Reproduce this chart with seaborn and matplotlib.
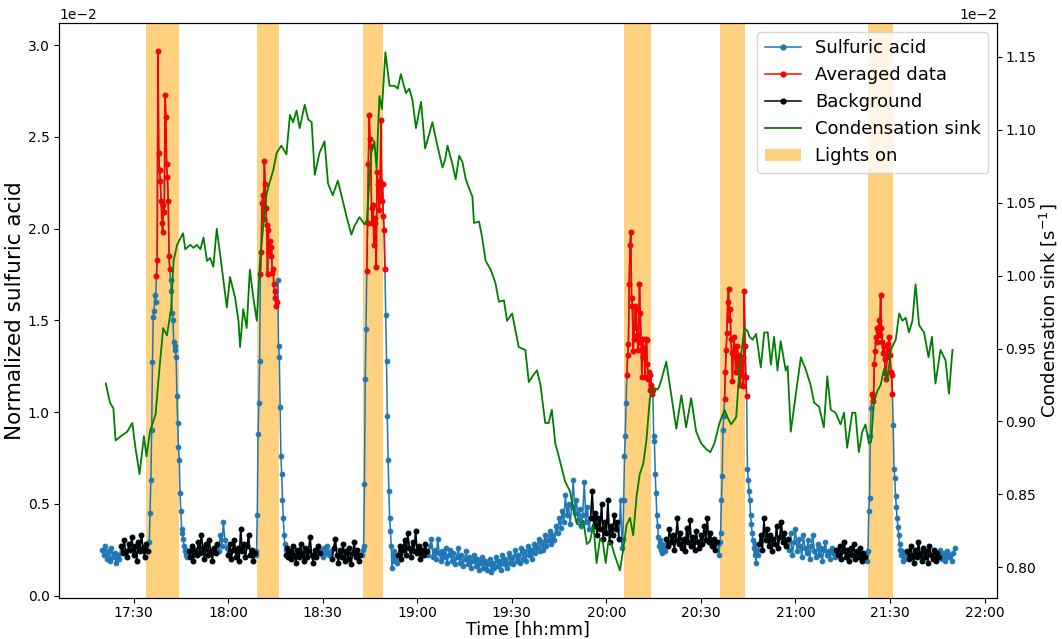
import numpy as np
import pandas as pd
import matplotlib
matplotlib.use("Agg")
import matplotlib.pyplot as plt
import seaborn as sns
from matplotlib.lines import Line2D
from matplotlib.patches import Patch
from matplotlib.ticker import FuncFormatter

# ---------------- data (time in minutes after 17:00) ----------------
# normalized sulfuric acid, in units of 1e-2, sampled in segments (start, step)
sa_base1 = [0.25, 0.22, 0.27, 0.20, 0.24, 0.19, 0.26, 0.21, 0.23, 0.18, 0.22, 0.20, 0.27, 0.23, 0.30,
            0.24, 0.21, 0.28, 0.25, 0.32, 0.22, 0.27, 0.19, 0.29, 0.24, 0.33, 0.26, 0.21, 0.28, 0.24]
sa_peak1 = [0.29, 0.45, 0.63, 0.90, 1.27, 1.52, 1.55, 1.64, 1.60,
            1.74, 1.83, 2.97, 2.41, 2.32, 2.26, 2.15, 2.03, 1.98, 2.13, 2.09, 2.73, 2.61, 2.35, 2.28, 2.15, 1.85, 1.78,
            1.72, 1.66, 1.54, 1.50, 1.38, 1.34, 1.36, 1.30, 1.09, 0.94, 0.81, 0.74, 0.56, 0.46, 0.36, 0.34, 0.31,
            0.27, 0.24, 0.22, 0.25, 0.21]
sa_base2 = [0.24, 0.21, 0.27, 0.19, 0.25, 0.22, 0.29, 0.23, 0.33, 0.26, 0.20, 0.28, 0.22, 0.30, 0.24, 0.19,
            0.26, 0.23, 0.28, 0.24, 0.33, 0.27, 0.40, 0.30, 0.26, 0.22, 0.28, 0.20, 0.25, 0.30, 0.21, 0.26,
            0.19, 0.36, 0.24, 0.28, 0.21, 0.27, 0.33, 0.22, 0.25, 0.19, 0.23]
sa_peak2 = [0.24, 0.22, 0.44, 0.88, 1.05, 1.28,
            1.75, 1.87, 2.14, 2.18, 2.05, 2.37, 2.24, 2.11, 2.02, 1.75, 1.99, 1.87, 1.93, 1.85, 1.90, 1.76,
            1.78, 1.70, 1.66, 1.62, 1.58, 1.60,
            1.72, 1.36, 1.30, 1.03, 0.76, 0.66, 0.52, 0.42, 0.33, 0.28, 0.25, 0.22, 0.26, 0.21]
sa_base3 = [0.24, 0.20, 0.27, 0.22, 0.18, 0.25, 0.21, 0.28, 0.23, 0.19, 0.26, 0.21, 0.24, 0.32, 0.22,
            0.18, 0.25, 0.21, 0.27, 0.23, 0.25, 0.21, 0.26, 0.23, 0.27, 0.22, 0.24, 0.20, 0.26, 0.31,
            0.22, 0.18, 0.25, 0.21, 0.28, 0.19, 0.24, 0.20, 0.26, 0.17, 0.23, 0.29, 0.21, 0.25, 0.19, 0.22]
sa_peak3 = [0.22, 0.25, 0.27, 0.61, 1.18, 1.45,
            1.77, 2.03, 2.35, 2.62, 2.49, 2.45, 2.11, 2.03, 2.13, 1.91, 2.06, 2.03, 1.79, 2.31, 2.24, 2.17,
            2.10, 2.26, 2.59, 2.15, 2.24, 2.07, 1.99, 1.78,
            1.53, 1.28, 0.98, 0.74, 0.57, 0.42, 0.35, 0.27, 0.15, 0.22, 0.19, 0.24, 0.20]
sa_base4 = [0.18, 0.22, 0.27, 0.20, 0.25, 0.30, 0.22, 0.34, 0.26, 0.21,
            0.29, 0.24, 0.35, 0.23, 0.27, 0.20, 0.25, 0.22, 0.28, 0.24,
            0.22, 0.27, 0.31, 0.21, 0.25, 0.20, 0.31, 0.23, 0.19, 0.24,
            0.21, 0.26, 0.18, 0.22, 0.25, 0.19, 0.23, 0.17, 0.21, 0.26,
            0.18, 0.22, 0.16, 0.20, 0.24, 0.17, 0.21, 0.15, 0.19, 0.22,
            0.16, 0.20, 0.14, 0.18, 0.21, 0.15, 0.19, 0.14, 0.17, 0.20,
            0.13, 0.18, 0.15, 0.21, 0.16, 0.19, 0.14, 0.22, 0.17, 0.20,
            0.15, 0.23, 0.18, 0.21, 0.17, 0.25, 0.19, 0.22, 0.18, 0.26,
            0.20, 0.24, 0.19, 0.27, 0.22, 0.25, 0.20, 0.28, 0.23, 0.26,
            0.31, 0.24, 0.29, 0.25, 0.33, 0.27, 0.30, 0.35, 0.28, 0.33,
            0.30, 0.38, 0.34, 0.42, 0.37, 0.46, 0.40, 0.55, 0.44, 0.50,
            0.39, 0.48, 0.63, 0.45, 0.52, 0.41, 0.47, 0.38, 0.44, 0.62,
            0.40, 0.48, 0.36, 0.42, 0.57, 0.38, 0.45, 0.33, 0.42, 0.36,
            0.50, 0.31, 0.40, 0.34, 0.52, 0.29, 0.38, 0.33, 0.44, 0.36,
            0.40, 0.31, 0.52]
sa_peak4 = [0.26, 0.31, 0.52, 0.76, 0.87, 1.05,
            1.20, 1.31, 1.37, 1.70, 1.91, 1.98, 1.62, 1.58, 1.33, 1.40, 1.58, 1.46, 1.56, 1.42, 1.34, 1.38,
            1.70, 1.54, 1.40, 1.19, 1.40, 1.30, 1.35, 1.19, 1.40, 1.39, 1.26, 1.18, 1.22, 1.12, 1.20, 1.15,
            1.10, 1.12,
            0.87, 0.84, 0.66, 0.56, 0.44, 0.38, 0.32, 0.27, 0.30, 0.25, 0.28, 0.23, 0.26]
sa_base5 = [0.24, 0.31, 0.27, 0.36, 0.29, 0.33, 0.25, 0.30, 0.42, 0.28, 0.34, 0.26, 0.31, 0.24, 0.37,
            0.29, 0.41, 0.27, 0.32, 0.25, 0.35, 0.29, 0.26, 0.33, 0.28, 0.38, 0.30, 0.42, 0.29, 0.34,
            0.27, 0.31, 0.25, 0.29]
sa_peak5 = [0.28, 0.22, 0.29, 0.34, 0.52, 0.65, 0.90, 0.98,
            1.07, 1.22, 1.34, 1.43, 1.60, 1.67, 1.50, 1.56, 1.40, 1.32, 1.17, 1.32, 1.41, 1.33, 1.22, 1.30,
            1.36, 1.25, 1.31, 1.24, 1.15, 1.27, 1.20, 1.30, 1.14, 1.66, 1.36, 1.19, 1.09,
            0.69, 0.63, 0.57, 0.52, 0.44, 0.39, 0.34, 0.30, 0.26, 0.22, 0.28, 0.18, 0.25, 0.22]
sa_base6 = [0.28, 0.33, 0.25, 0.42, 0.30, 0.36, 0.27, 0.33, 0.24, 0.31, 0.28, 0.38, 0.26, 0.32, 0.40,
            0.29, 0.34, 0.27, 0.31,
            0.25, 0.34, 0.22, 0.29, 0.36, 0.24, 0.31, 0.27, 0.21, 0.33, 0.26, 0.23, 0.30, 0.20, 0.27,
            0.33, 0.24, 0.21, 0.28, 0.22, 0.26, 0.19, 0.25, 0.29, 0.22, 0.24, 0.20, 0.26, 0.23, 0.21,
            0.25, 0.22, 0.27, 0.20, 0.24, 0.29, 0.21, 0.25, 0.19, 0.26, 0.22, 0.28, 0.20, 0.24, 0.21,
            0.26, 0.19, 0.23, 0.21]
sa_peak6 = [0.22, 0.19, 0.24, 0.46, 0.53, 0.87, 1.02,
            1.10, 1.09, 1.06, 1.26, 1.33, 1.41, 1.38, 1.46, 1.44, 1.50, 1.42, 1.64, 1.46, 1.38, 1.32,
            1.36, 1.29, 1.21, 1.18, 1.30, 1.37, 1.34, 1.41, 1.31, 1.22, 1.20, 1.10,
            0.93, 0.69, 0.64, 0.54, 0.48, 0.42, 0.375, 0.33, 0.28, 0.25, 0.22, 0.24, 0.19, 0.22, 0.20,
            0.23, 0.21]
sa_base7 = [0.24, 0.20, 0.27, 0.22, 0.18, 0.25, 0.21, 0.29, 0.23, 0.19, 0.26, 0.21, 0.24, 0.18, 0.27,
            0.22, 0.20, 0.25, 0.19, 0.23, 0.21, 0.25, 0.20, 0.23, 0.19, 0.24, 0.21, 0.22, 0.19, 0.23, 0.26]

# (segment start [min after 17:00], sampling step [min], values)
sa_segments = [(20.0, 0.5, sa_base1), (35.0, 0.25, sa_peak1), (47.5, 0.5, sa_base2),
               (68.75, 0.25, sa_peak2), (79.5, 0.5, sa_base3), (102.5, 0.25, sa_peak3),
               (113.5, 0.5, sa_base4), (185.0, 0.25, sa_peak4), (198.5, 0.5, sa_base5),
               (215.5, 0.25, sa_peak5), (228.5, 0.5, sa_base6), (262.5, 0.25, sa_peak6),
               (275.5, 0.5, sa_base7)]

# time windows (min after 17:00)
averaged_windows = [(37.25, 41.5), (70.25, 75.5), (104.0, 109.75), (186.5, 194.75),
                    (217.5, 224.5), (264.25, 270.75)]
background_windows = [(26.0, 34.5), (47.5, 56.5), (60.0, 68.5), (78.5, 89.0), (93.0, 102.0),
                      (114.0, 123.0), (175.0, 184.0), (199.0, 215.0), (228.5, 237.5),
                      (253.0, 262.0), (275.5, 285.5)]
lights_on = [(34.1, 44.4), (69.1, 76.1), (102.9, 109.0), (185.7, 194.1), (216.1, 224.1), (263.0, 270.9)]

# condensation sink, units of 1e-2 s^-1
cs_time = [21.2, 22.5, 23.6, 24.3, 26.0, 28.0, 29.6, 30.6, 31.9, 33.3,
           34.1, 35.2, 37.0, 38.0, 39.4, 40.6, 41.9, 42.7, 43.8, 45.7,
           46.4, 48.0, 49.0, 50.1, 51.2, 52.2, 53.3, 54.3, 55.3, 56.4,
           58.5, 59.6, 60.6, 62.2, 63.3, 63.8, 64.8, 65.9, 66.9, 68.0,
           69.1, 70.1, 71.2, 72.2, 73.2, 74.3, 75.4, 76.9, 78.5, 79.6,
           80.6, 81.7, 82.7, 83.8, 84.3, 85.4, 86.5, 87.5, 89.0, 90.6,
           91.7, 93.2, 94.8, 96.4, 97.5, 99.1, 100.1, 101.7, 103.3, 104.0,
           105.4, 106.4, 107.1, 108.0, 108.8, 109.9, 111.2, 112.8, 113.8, 114.8,
           116.4, 117.5, 118.5, 119.6, 121.2, 122.5, 123.8, 124.8, 126.4, 128.0,
           128.8, 129.6, 131.1, 132.2, 133.3, 134.3, 135.4, 136.4, 137.5, 138.0,
           139.6, 140.6, 141.7, 143.3, 144.8, 145.9, 147.5, 148.5, 150.1, 151.2,
           152.2, 153.2, 154.3, 155.4, 156.9, 158.0, 159.1, 160.6, 161.7, 162.7,
           163.8, 164.8, 166.9, 168.5, 169.6, 170.6, 171.6, 172.7, 173.8, 174.8,
           175.9, 176.9, 178.0, 178.9, 179.8, 180.6, 181.6, 182.7, 184.3, 185.4,
           186.4, 187.5, 188.5, 189.6, 190.6, 191.7, 192.7, 193.8, 194.8, 196.4,
           197.4, 199.0, 200.6, 202.2, 203.8, 205.3, 206.9, 208.5, 210.1, 211.7,
           213.0, 214.3, 215.9, 217.5, 218.6, 219.6, 221.2, 222.2, 223.8, 224.8,
           225.4, 226.4, 227.5, 229.0, 230.1, 231.2, 232.2, 233.2, 234.3, 235.3,
           236.9, 237.5, 238.5, 241.7, 243.2, 244.8, 245.9, 247.5, 249.0, 250.1,
           251.2, 252.7, 254.3, 255.4, 256.4, 258.0, 259.0, 260.1, 261.2, 262.2,
           263.3, 264.0, 264.9, 266.0, 267.0, 268.1, 269.2, 270.2, 271.8, 272.9,
           273.9, 275.0, 276.0, 277.1, 278.1, 279.2, 280.8, 282.2, 283.3, 284.4,
           286.0, 287.6, 288.7, 289.8]
cs_value = [0.926, 0.913, 0.909, 0.887, 0.890, 0.893, 0.899, 0.882, 0.864, 0.890,
            0.876, 0.893, 0.905, 0.931, 0.964, 0.959, 0.977, 1.010, 1.021, 1.029,
            1.018, 1.021, 1.019, 1.021, 1.018, 1.026, 1.010, 1.012, 1.006, 1.032,
            0.997, 0.978, 0.999, 0.985, 0.969, 0.951, 0.977, 0.964, 1.004, 0.985,
            0.969, 1.010, 1.035, 1.056, 1.064, 1.072, 1.084, 1.089, 1.083, 1.110,
            1.105, 1.113, 1.101, 1.112, 1.117, 1.107, 1.105, 1.069, 1.084, 1.092,
            1.063, 1.055, 1.065, 1.051, 1.041, 1.028, 1.034, 1.040, 1.035, 1.038,
            1.084, 1.092, 1.073, 1.123, 1.114, 1.153, 1.130, 1.130, 1.128, 1.138,
            1.125, 1.128, 1.120, 1.101, 1.119, 1.087, 1.097, 1.105, 1.089, 1.074,
            1.079, 1.089, 1.077, 1.066, 1.082, 1.078, 1.066, 1.060, 1.054, 1.036,
            1.037, 1.026, 1.010, 1.004, 0.995, 0.982, 0.983, 0.969, 0.974, 0.962,
            0.951, 0.950, 0.949, 0.927, 0.932, 0.935, 0.925, 0.899, 0.899, 0.908,
            0.885, 0.877, 0.859, 0.852, 0.839, 0.830, 0.829, 0.832, 0.816, 0.818,
            0.829, 0.803, 0.820, 0.817, 0.803, 0.817, 0.816, 0.808, 0.798, 0.813,
            0.829, 0.834, 0.822, 0.849, 0.864, 0.871, 0.887, 0.916, 0.923, 0.922,
            0.928, 0.941, 0.918, 0.895, 0.918, 0.896, 0.916, 0.893, 0.885, 0.881,
            0.879, 0.885, 0.899, 0.908, 0.902, 0.898, 0.903, 0.936, 0.964, 0.962,
            0.958, 0.956, 0.960, 0.937, 0.961, 0.961, 0.939, 0.958, 0.935, 0.955,
            0.935, 0.938, 0.893, 0.944, 0.936, 0.925, 0.913, 0.910, 0.896, 0.931,
            0.908, 0.906, 0.898, 0.906, 0.882, 0.906, 0.906, 0.879, 0.893, 0.898,
            0.885, 0.886, 0.914, 0.921, 0.925, 0.936, 0.928, 0.949, 0.956, 0.974,
            0.969, 0.971, 0.961, 0.969, 0.994, 0.966, 0.961, 0.944, 0.958, 0.926,
            0.949, 0.942, 0.919, 0.949]

# ---------------- build tables ----------------
t_list, v_list = [], []
for start, step, vals in sa_segments:
    t_list.append(start + step * np.arange(len(vals)))
    v_list.append(np.asarray(vals, dtype=float))
sa = pd.DataFrame({"t": np.concatenate(t_list), "v": np.concatenate(v_list) * 1e-2})


def select(windows):
    parts = []
    for i, (a, b) in enumerate(windows):
        m = (sa["t"] >= a - 1e-6) & (sa["t"] <= b + 1e-6)
        p = sa[m].copy()
        p["win"] = i
        parts.append(p)
    return pd.concat(parts, ignore_index=True)


avg_df = select(averaged_windows)
bg_df = select(background_windows)
cs = pd.DataFrame({"t": cs_time, "v": np.asarray(cs_value) * 1e-2})

# ---------------- plot ----------------
blue = "#1f77b4"
fig = plt.figure(figsize=(10.62, 6.39), dpi=100)
ax1 = fig.add_axes([0.056, 0.064, 0.883, 0.900])

for a, b in lights_on:
    ax1.axvspan(a, b, color="orange", alpha=0.5, lw=0, zorder=0)

mk = dict(marker="o", markersize=3.5, markeredgewidth=0.6)
sns.lineplot(data=sa, x="t", y="v", ax=ax1, color=blue, linewidth=1.1, estimator=None, sort=False,
             markeredgecolor=blue, zorder=2, **mk)
sns.lineplot(data=bg_df, x="t", y="v", units="win", estimator=None, ax=ax1, color="black",
             linewidth=1.1, markeredgecolor="black", zorder=3, **mk)
sns.lineplot(data=avg_df, x="t", y="v", units="win", estimator=None, ax=ax1, color="red",
             linewidth=1.1, markeredgecolor="red", zorder=3, **mk)

ax2 = ax1.twinx()
sns.lineplot(data=cs, x="t", y="v", ax=ax2, color="green", linewidth=1.3, estimator=None, sort=False)

ax1.set_xlim(6.5, 304.0)
ax1.set_ylim(-0.00014, 0.0312)
ax2.set_ylim(0.00779, 0.01173)
ax1.set_yticks(np.arange(0, 0.0301, 0.005))
ax2.set_yticks(np.arange(0.0080, 0.01151, 0.0005))
ax1.ticklabel_format(axis="y", style="sci", scilimits=(0, 0))
ax2.ticklabel_format(axis="y", style="sci", scilimits=(0, 0))

xt = np.arange(30, 301, 30)
ax1.set_xticks(xt)
ax1.xaxis.set_major_formatter(FuncFormatter(lambda m, p: f"{17 + int(round(m)) // 60}:{int(round(m)) % 60:02d}"))

for ax in (ax1, ax2):
    ax.tick_params(labelsize=10)
    ax.yaxis.get_offset_text().set_fontsize(10)
ax1.tick_params(axis="x", pad=2.5)
ax2.tick_params(axis="y", pad=2.5)

ax1.set_xlabel("Time [hh:mm]", fontsize=12.5, labelpad=0)
ax1.set_ylabel("Normalized sulfuric acid", fontsize=15.5, labelpad=2)
ax2.set_ylabel("Condensation sink [s$^{-1}$]", fontsize=13, labelpad=0.5)

handles = [Line2D([], [], color=blue, marker="o", markersize=3.5, lw=1.1),
           Line2D([], [], color="red", marker="o", markersize=3.5, lw=1.1),
           Line2D([], [], color="black", marker="o", markersize=3.5, lw=1.1),
           Line2D([], [], color="green", lw=1.3),
           Patch(facecolor="orange", alpha=0.5, edgecolor="none")]
labels = ["Sulfuric acid", "Averaged data", "Background", "Condensation sink", "Lights on"]
ax2.legend(handles, labels, loc="upper right", fontsize=13)

fig.savefig("out.png", dpi=100)
